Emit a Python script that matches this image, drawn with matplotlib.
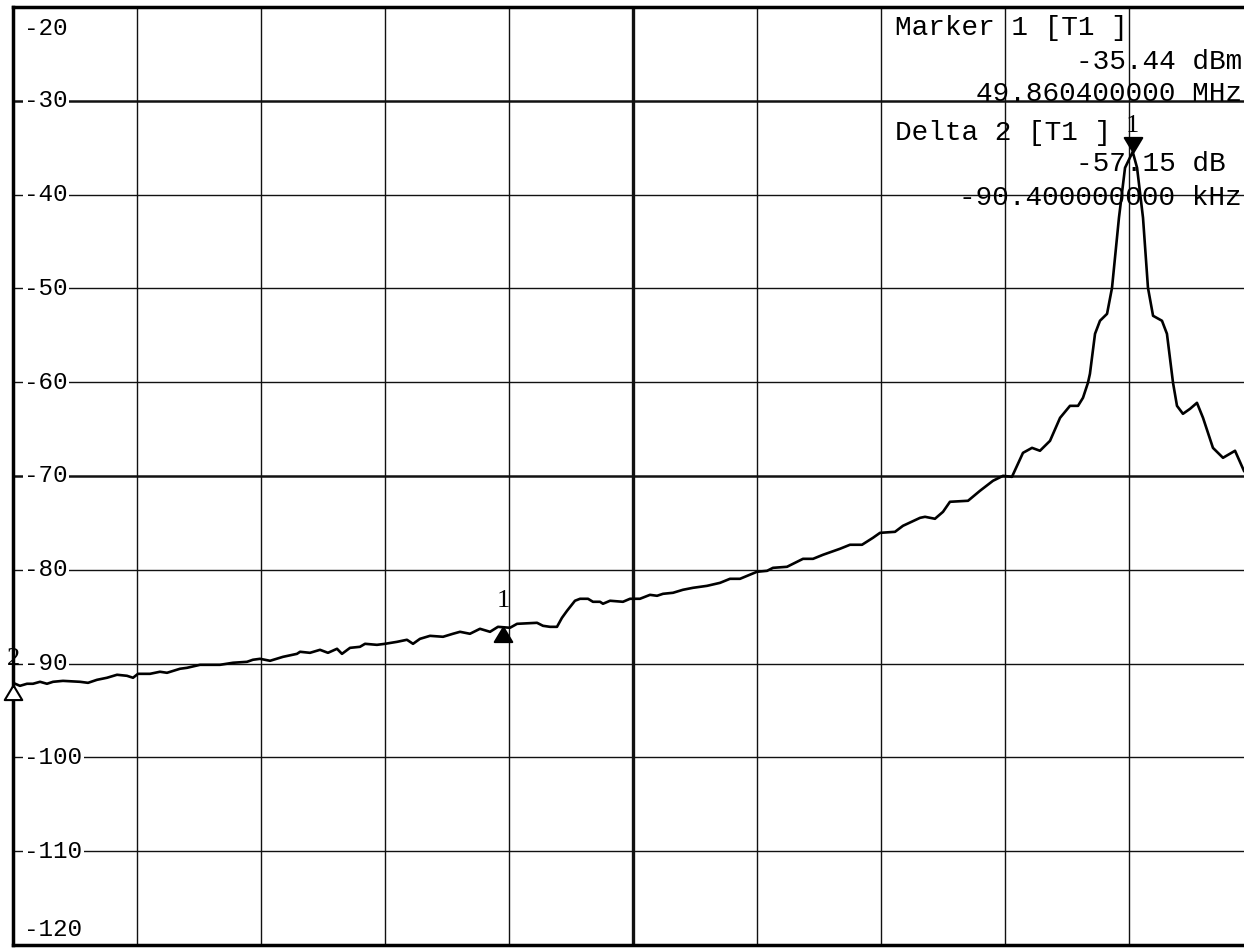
import matplotlib
matplotlib.use('Agg')
import matplotlib.pyplot as plt

# trace: offset from left edge (kHz), level (dBm)
freq_khz = [0.0, 0.56, 1.13, 1.61, 2.18, 2.74, 3.23, 4.03, 5.40, 6.05,
            6.77, 7.58, 8.39, 9.19, 9.68, 10.08, 11.05, 11.85, 12.42, 13.47,
            14.03, 15.08, 16.69, 17.74, 18.87, 19.35, 19.92, 20.73, 21.77, 22.90,
            23.15, 23.95, 24.76, 25.40, 26.13, 26.53, 27.18, 27.98, 28.39, 29.35,
            30.0, 30.97, 31.77, 32.26, 32.82, 33.63, 34.68, 35.48, 36.05, 36.85,
            37.66, 38.47, 39.11, 40.08, 40.65, 42.26, 42.74, 43.31, 43.87, 44.27,
            44.68, 45.32, 45.73, 46.37, 46.77, 47.34, 47.58, 48.15, 49.19, 49.76,
            50.56, 51.37, 51.94, 52.42, 53.23, 54.03, 54.84, 55.97, 57.02, 57.82,
            58.63, 60.0, 60.81, 61.29, 62.42, 63.71, 64.52, 65.32, 66.69, 67.50,
            68.47, 69.35, 69.92, 71.13, 71.77, 73.15, 73.55, 74.35, 75.0, 75.56,
            77.02, 77.98, 79.03, 79.84, 80.56, 81.45, 82.18, 82.82, 83.63, 84.44,
            85.24, 85.89, 86.29, 86.69, 86.85, 87.26, 87.66, 88.23, 88.63, 89.19,
            89.68, 90.3, 90.65, 91.13, 91.53, 91.94, 92.66, 93.06, 93.55, 93.87,
            94.35, 94.92, 95.48, 95.97, 96.77, 97.58, 98.55, 99.27]
level_dbm = [-92.05, -92.37, -92.15, -92.15, -91.94, -92.15, -91.94, -91.84, -91.94, -92.05,
             -91.73, -91.51, -91.19, -91.30, -91.51, -91.09, -91.09, -90.87, -90.98, -90.55,
             -90.45, -90.13, -90.13, -89.91, -89.81, -89.59, -89.49, -89.70, -89.28, -88.96,
             -88.74, -88.85, -88.53, -88.85, -88.42, -88.96, -88.32, -88.21, -87.89, -88.00,
             -87.89, -87.68, -87.46, -87.89, -87.36, -87.04, -87.14, -86.82, -86.61, -86.82,
             -86.29, -86.61, -86.08, -86.18, -85.76, -85.65, -85.97, -86.08, -86.08, -85.12,
             -84.37, -83.30, -83.09, -83.09, -83.41, -83.41, -83.62, -83.30, -83.41, -83.09,
             -83.09, -82.67, -82.77, -82.56, -82.45, -82.13, -81.92, -81.71, -81.39, -80.96,
             -80.96, -80.21, -80.11, -79.79, -79.68, -78.83, -78.83, -78.40, -77.76, -77.33,
             -77.33, -76.59, -76.06, -75.95, -75.31, -74.46, -74.35, -74.56, -73.82, -72.75,
             -72.64, -71.58, -70.51, -69.98, -70.09, -67.53, -67.00, -67.31, -66.25, -63.80,
             -62.52, -62.52, -61.66, -60.06, -59.10, -54.84, -53.45, -52.71, -49.94, -42.47,
             -37.14, -35.44, -37.14, -42.47, -49.94, -52.92, -53.45, -54.84, -60.06, -62.52,
             -63.37, -62.84, -62.20, -63.80, -67.00, -68.06, -67.31, -69.45]

# y grid values (dBm)
y_levels = [-20, -30, -40, -50, -60, -70, -80, -90, -100, -110, -120]

# markers: freq, level, label, filled, pointing up
mark_freq = [90.3, 39.5, 0.0]
mark_level = [-35.44, -86.08, -92.3]
mark_label = ['1', '1', '2']
mark_filled = [True, True, False]
mark_up = [False, True, True]

info_left = ['Marker 1 [T1 ]', 'Delta 2 [T1 ]']
info_right = ['-35.44 dBm', '49.860400000 MHz', '-57.15 dB ', '-90.400000000 kHz']


def main():
    fig = plt.figure(figsize=(12.44, 9.51), dpi=100)
    # right edge of the screen is cut off in the scan
    ax = fig.add_axes([13 / 1244, 6 / 951, 1240 / 1244, 938 / 951])
    ax.set_xlim(0, 100)
    ax.set_ylim(-120, -20)
    ax.set_xticks([])
    ax.set_yticks([])
    for s in ax.spines.values():
        s.set_linewidth(2.5)
        s.set_color('black')

    # grid
    for k in range(1, 10):
        lw = 2.4 if k == 5 else 1.0
        ax.axvline(k * 10, color='#111111', lw=lw, zorder=1)
    for v in y_levels[1:-1]:
        lw = 1.8 if v in (-30, -70) else 1.0
        ax.axhline(v, color='#111111', lw=lw, zorder=1)

    # level labels inside the screen
    for v in y_levels:
        yy = v
        if v == -20:
            yy = v - 2.3
        elif v == -120:
            yy = v + 1.7
        ax.text(0.009, yy, '%d' % v, transform=ax.get_yaxis_transform(),
                family='Liberation Mono', fontsize=17.5, va='center', ha='left',
                zorder=2, bbox=dict(facecolor='white', edgecolor='none', pad=1.0))

    ax.plot(freq_khz, level_dbm, color='black', lw=1.9, zorder=3)

    up_tri = [(0, 0), (-0.6, -1), (0.6, -1), (0, 0)]
    down_tri = [(0, 0), (-0.6, 1), (0.6, 1), (0, 0)]
    for f, lv, lab, filled, up in zip(mark_freq, mark_level, mark_label,
                                      mark_filled, mark_up):
        ax.plot([f], [lv], marker=up_tri if up else down_tri, ms=21,
                color='black', mfc='black' if filled else 'white',
                mew=1.5, zorder=4, clip_on=False)
        dy = 11 if up else 11
        ax.annotate(lab, (f, lv), xytext=(0, dy), textcoords='offset points',
                    ha='center', va='bottom', family='Liberation Serif',
                    fontsize=19, zorder=4)

    # marker readout
    left_y = [0.9776, 0.8657]
    right_y = [0.9414, 0.9072, 0.8326, 0.7964]
    for t, yy in zip(info_left, left_y):
        ax.text(0.711, yy, t, transform=ax.transAxes, family='Liberation Mono',
                fontsize=20, ha='left', va='center', zorder=5)
    for t, yy in zip(info_right, right_y):
        ax.text(0.9911, yy, t, transform=ax.transAxes, family='Liberation Mono',
                fontsize=20, ha='right', va='center', zorder=5)

    fig.savefig('out.png', dpi=100, facecolor='white')


if __name__ == "__main__":
    main()
